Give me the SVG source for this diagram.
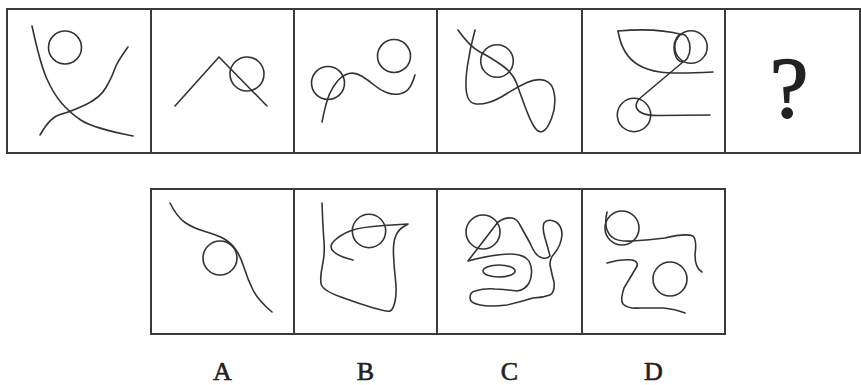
<svg xmlns="http://www.w3.org/2000/svg" width="861" height="385" viewBox="0 0 861 385">
<style>
.frame{fill:none;stroke:#3a3a3a;stroke-width:2}
.ln{fill:none;stroke:#333;stroke-width:1.6;stroke-linecap:round;stroke-linejoin:round}
.lbl{font-family:"Liberation Serif","Times New Roman",serif;font-size:26px;fill:#222;stroke:#222;stroke-width:0.6;text-anchor:middle}
</style>
<rect width="861" height="385" fill="#fff"/>
<g id="frames">
<rect class="frame" x="7" y="9" width="853" height="144"/>
<path class="frame" d="M151,9V153M294,9V153M437,9V153M582,9V153M725,9V153"/>
<rect class="frame" x="151" y="189" width="574" height="145"/>
<path class="frame" d="M294,189V334M437,189V334M582,189V334"/>
</g>
<g id="cell1">
<circle class="ln" cx="65" cy="47.5" r="16.5"/>
<path class="ln" d="M32,26 Q40,63 46.5,78 Q53,93 61.5,103 Q70,113 81.5,120.5 Q93,128 133,136"/>
<path class="ln" d="M40,135 Q50,117 60,114.5 Q70,112 85,105 Q100,98 106,87.5 Q112,77 114.5,69.5 Q117,62 128,47"/>
</g>
<g id="cell2">
<circle class="ln" cx="247" cy="74" r="17"/>
<path class="ln" d="M175,106 L219,57 L267,106"/>
</g>
<g id="cell3">
<circle class="ln" cx="328" cy="83" r="16.5"/>
<circle class="ln" cx="394" cy="56" r="16.5"/>
<path class="ln" d="M322,122 Q326,102 329.5,94 Q333,86 338,80.5 Q343,75 349,73.5 Q355,72 361.5,76 Q368,80 374,85 Q380,90 386.5,92.5 Q393,95 399,94 Q405,93 408.5,89 Q412,85 415,75"/>
</g>
<g id="cell4">
<circle class="ln" cx="497" cy="61" r="16.3"/>
<path class="ln" d="M475,30 Q470,48 467.5,65.5 Q465,83 466.5,92.5 Q468,102 474,103.5 Q480,105 488.5,102.5 Q497,100 507,93.5 Q517,87 527,82.5 Q537,78 545,80.5 Q553,83 554.5,95 Q556,107 551.5,118.5 Q547,130 542.5,131.5 Q538,133 534,126.5 Q530,120 525,106.5 Q520,93 516.5,83 Q513,73 501.5,65 Q490,57 480,52 Q470,47 458,30"/>
</g>
<g id="cell5">
<circle class="ln" cx="691" cy="47" r="16.2"/>
<ellipse class="ln" cx="682" cy="48" rx="8" ry="13.7"/>
<path class="ln" d="M618,31 C640,29 665,30 682,34.5"/>
<path class="ln" d="M618,31 Q620,43 625,51.5 Q630,60 638.5,65 Q647,70 660,72 Q673,74 713,72"/>
<path class="ln" d="M683,62 L639,99 Q632,108 642,113 Q648,116 660,115.5 L710,115"/>
<circle class="ln" cx="634" cy="115" r="16.7"/>
</g>
<g id="cell6">
<text x="789" y="117" style="font-family:'Liberation Serif','Times New Roman',serif;font-size:86px;fill:#222;stroke:#222;stroke-width:1.6;text-anchor:middle">?</text>
</g>
<g id="optA">
<circle class="ln" cx="220" cy="258" r="17"/>
<path class="ln" d="M170,203 Q177,217 185,222.5 Q193,228 205,231.5 Q217,235 223.5,238.5 Q230,242 235,248.5 Q240,255 244,267.5 Q248,280 253,290 Q258,300 272,312"/>
<text class="lbl" x="222.5" y="380">A</text>
</g>
<g id="optB">
<circle class="ln" cx="369" cy="231" r="16.7"/>
<path class="ln" d="M353,260 Q340,257 334,252 Q328,247 334,241 Q340,235 350,231 Q360,227 384,225.5 L408,224 L403,227 Q398,230 395.5,236.5 Q393,243 393.5,255 Q394,267 395.5,280 Q397,293 395,301.5 Q393,310 390,311 Q387,312 372,307.5 Q357,303 339.5,296.5 Q322,290 321,283.5 Q320,277 322.5,265 Q325,253 324,241.5 Q323,230 322,203"/>
<text class="lbl" x="365.5" y="380">B</text>
</g>
<g id="optC">
<circle class="ln" cx="483" cy="232" r="17"/>
<ellipse class="ln" cx="499" cy="271" rx="16" ry="6"/>
<path class="ln" d="M468,261 L498,222 Q505,217 512,218 Q517,219 520,225 L530,243 Q535,255 540,257 Q546,260 550,256 Q548,248 545,238 Q542,228 544,223 Q548,218 556,222 Q562,226 562,235 Q561,246 554,254 Q550,258 550,265 Q552,275 554,282 Q555,292 550,295 Q542,298 533,298 Q520,302 507,305 Q490,307 480,305 Q470,303 470,298 Q470,292 475,291 Q485,288 495,289 Q510,290 517,291 Q525,290 529,283 Q532,277 531.5,270 Q531,262 526,258 Q520,254 510,254 Q495,254 468,261"/>
<text class="lbl" x="509.5" y="380">C</text>
</g>
<g id="optD">
<circle class="ln" cx="622" cy="228" r="17"/>
<circle class="ln" cx="670" cy="279" r="17"/>
<path class="ln" d="M607,212 Q603,230 612,237 Q618,242 632,241 Q650,240 665,238 Q685,233 693,236 Q697,240 695,255 Q695,268 702,272"/>
<path class="ln" d="M607,263 Q620,259 632,260 Q640,262 636,268 L624,288 Q620,300 623,304 Q628,309 640,308 L663,308 Q675,309 685,313"/>
<text class="lbl" x="653.5" y="380">D</text>
</g>
</svg>
